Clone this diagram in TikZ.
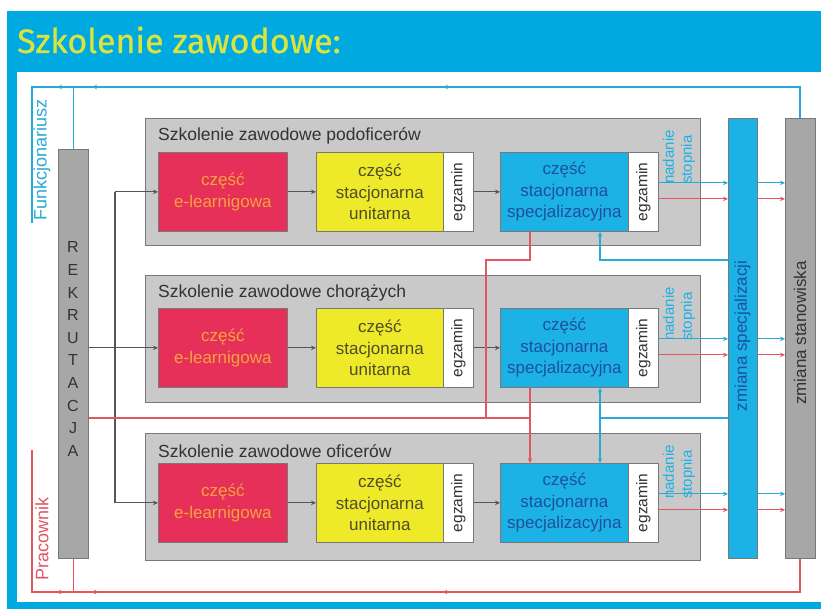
\documentclass[tikz,border=0pt]{standalone}
\usepackage{fontspec}
\setmainfont{Liberation Sans}
\newfontfamily\titlefont{Fira Sans}[FakeBold=0.7]
\usetikzlibrary{arrows.meta,decorations.markings}
\definecolor{titlebg}{RGB}{0,170,225}
\definecolor{titlefg}{RGB}{218,228,62}
\definecolor{cyanbox}{RGB}{28,178,230}
\definecolor{redbox}{RGB}{230,48,90}
\definecolor{orangetxt}{RGB}{246,162,60}
\definecolor{yellowbox}{RGB}{238,234,42}
\definecolor{yellowtxt}{RGB}{80,76,40}
\definecolor{bluetxt}{RGB}{30,80,155}
\definecolor{grpfill}{RGB}{201,201,201}
\definecolor{grpdraw}{RGB}{120,120,120}
\definecolor{bargrey}{RGB}{167,167,167}
\definecolor{linecyan}{RGB}{40,170,215}
\definecolor{linered}{RGB}{228,85,100}
\definecolor{linedark}{RGB}{85,85,85}
\definecolor{txtdark}{RGB}{50,50,55}
\begin{document}
\begin{tikzpicture}[x=1pt,y=-1pt,
  grp/.style={draw=grpdraw, fill=grpfill, line width=1pt, minimum width=555pt, minimum height=127pt, anchor=north west, inner sep=0pt},
  grptitle/.style={anchor=west, inner sep=0pt, text=txtdark, font=\fontsize{17.5}{17.5}\selectfont},
  boxbase/.style={draw=grpdraw, line width=0.7pt, minimum height=79pt, anchor=north west, inner sep=0pt, align=center, font=\fontsize{17}{21.5}\selectfont},
  ebox/.style={boxbase, fill=redbox, text=orangetxt, minimum width=129pt},
  ybox/.style={boxbase, fill=yellowbox, text=yellowtxt, minimum width=127pt},
  bbox/.style={boxbase, fill=cyanbox, text=bluetxt, minimum width=128pt},
  egzbox/.style={boxbase, fill=white, minimum width=30pt},
  egztxt/.style={rotate=90, inner sep=0pt, text=txtdark, font=\fontsize{15.5}{15.5}\selectfont},
  nadtxt/.style={rotate=90, inner sep=0pt, align=left, text=cyanbox, font=\fontsize{15}{18}\selectfont},
  bar/.style={draw=grpdraw, line width=0.7pt, anchor=north west, inner sep=0pt, minimum height=440pt},
  bartxt/.style={rotate=90, inner sep=0pt, font=\fontsize{17}{17}\selectfont},
  darkl/.style={draw=linedark, line width=1.1pt},
  redl/.style={draw=linered, line width=1.1pt},
  cyanl/.style={draw=linecyan, line width=1.1pt},
  arr/.style={-{Stealth[length=5pt,width=4.5pt]}}
]
\useasboundingbox (0,0) rectangle (821,609);
\fill[white] (0,0) rectangle (821,609);
\fill[titlebg] (7,11) rectangle (821,609);
\fill[white] (17,72) rectangle (821,602);
\node[anchor=base west, inner sep=0pt, text=titlefg, font=\titlefont\fontsize{34}{34}\selectfont] (title) at (17,53) {Szkolenie zawodowe:};

% group boxes
\node[grp] (g1) at (145,118) {};
\node[grp] (g2) at (145,275) {};
\node[grp] (g3) at (145,433) {};
\node[grptitle] (gt1) at (158,136) {Szkolenie zawodowe podoficerów};
\node[grptitle] (gt2) at (158,293) {Szkolenie zawodowe chorążych};
\node[grptitle] (gt3) at (158,451) {Szkolenie zawodowe oficerów};

% rows
\foreach \r/\t in {1/152,2/308,3/463}{
  \node[ebox] (e\r) at (158,\t) {część\\e-learnigowa};
  \node[ybox] (y\r) at (316,\t) {część\\stacjonarna\\unitarna};
  \node[egzbox] (ye\r) at (443,\t) {};
  \node[egztxt] (yet\r) at (ye\r.center) {egzamin};
  \node[bbox] (b\r) at (500,\t) {część\\stacjonarna\\specjalizacyjna};
  \node[egzbox] (be\r) at (628,\t) {};
  \node[egztxt] (bet\r) at (be\r.center) {egzamin};
}
\node[nadtxt] (nad1) at (679,157) {nadanie\\stopnia};
\node[nadtxt] (nad2) at (679,314) {nadanie\\stopnia};
\node[nadtxt] (nad3) at (679,472) {nadanie\\stopnia};

% bars
\node[bar, fill=bargrey, minimum width=30pt, minimum height=409pt] (rek) at (58,149) {};
\node[align=center, inner sep=0pt, text=txtdark, font=\fontsize{16}{22.6}\selectfont] (rektxt) at (73,349) {R\\E\\K\\R\\U\\T\\A\\C\\J\\A};
\node[bar, fill=cyanbox, minimum width=29pt] (spec) at (728,118) {};
\node[bartxt, text=bluetxt] (spectxt) at (742.5,336) {zmiana specjalizacji};
\node[bar, fill=bargrey, minimum width=30pt] (stan) at (785,118) {};
\node[bartxt, text=txtdark] (stantxt) at (800,333) {zmiana stanowiska};

\node[rotate=90, inner sep=0pt, text=linecyan, font=\fontsize{18}{18}\selectfont] (funk) at (42,160) {Funkcjonariusz};
\node[rotate=90, inner sep=0pt, text=linered, font=\fontsize{18}{18}\selectfont] (prac) at (42,539) {Pracownik};

% helper coordinates
\coordinate (jx) at (115,0);
\coordinate (xr) at (530,0);
\coordinate (xr2) at (486,0);
\coordinate (xc) at (600,0);
\coordinate (ylo) at (0,260);
\coordinate (yhi) at (0,418);
\coordinate (ytop) at (0,87);
\coordinate (ybot) at (0,592);
\coordinate (xl) at (32,0);
\coordinate (xs) at (800,0);
\coordinate (fbot) at (32,223);
\coordinate (ptop) at (32,450);

% recruitment connectors
\draw[darkl] (jx |- e1.west) -- (jx |- e3.west);
\draw[darkl,arr] (jx |- e1.west) -- (e1.west);
\draw[darkl,arr] (rek.east |- e2.west) -- (e2.west);
\draw[darkl,arr] (jx |- e3.west) -- (e3.west);

% in-row connectors
\foreach \r in {1,2,3}{
  \draw[darkl,arr] (e\r.east) -- (y\r.west);
  \draw[darkl,arr] (ye\r.east) -- (b\r.west);
  \coordinate (oc\r) at ([yshift=9pt]be\r.east);
  \coordinate (or\r) at ([yshift=-7pt]be\r.east);
  \draw[cyanl,arr] (oc\r) -- (oc\r -| spec.west);
  \draw[cyanl,arr] (oc\r -| spec.east) -- (oc\r -| stan.west);
  \draw[redl,arr] (or\r) -- (or\r -| spec.west);
  \draw[redl,arr] (or\r -| spec.east) -- (or\r -| stan.west);
}

% inter-row connectors
\draw[redl] (b1.south -| xr) |- (ylo -| xr2) -- (yhi -| xr2);
\draw[redl] (rek.east |- yhi) -- (yhi -| xr);
\draw[redl,arr] (b2.south -| xr) -- (b3.north -| xr);
\draw[cyanl,arr] (spec.west |- ylo) -| (b1.south -| xc);
\draw[cyanl] (spec.west |- yhi) -- (yhi -| xc);
\draw[cyanl,arr] (yhi -| xc) -- (b2.south -| xc);
\draw[cyanl,arr] (yhi -| xc) -- (b3.north -| xc);

% outer loops
\draw[cyanl, postaction={decorate}, decoration={markings,
  mark=at position 388pt with {\arrow{Stealth[length=5pt,width=4.5pt]}},
  mark=at position 739pt with {\arrow{Stealth[length=5pt,width=4.5pt]}},
  mark=at position 774pt with {\arrow{Stealth[length=5pt,width=4.5pt]}}}]
  (stan.north -| xs) -- (xs |- ytop) -- (xl |- ytop) -- (fbot);
\draw[cyanl] (rek.north) -- (rek.north |- ytop);
\draw[redl, postaction={decorate}, decoration={markings,
  mark=at position 391pt with {\arrow{Stealth[length=5pt,width=4.5pt]}},
  mark=at position 742pt with {\arrow{Stealth[length=5pt,width=4.5pt]}},
  mark=at position 777pt with {\arrow{Stealth[length=5pt,width=4.5pt]}}}]
  (stan.south -| xs) -- (xs |- ybot) -- (xl |- ybot) -- (ptop);
\draw[redl] (rek.south) -- (rek.south |- ybot);
\end{tikzpicture}
\end{document}
